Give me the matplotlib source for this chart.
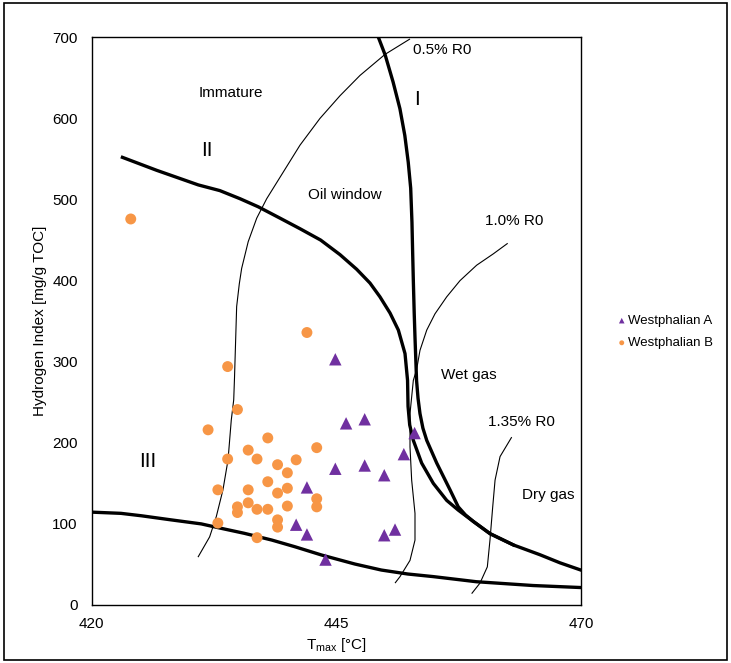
import matplotlib
matplotlib.use("Agg")
import matplotlib.pyplot as plt
from matplotlib.patches import Rectangle

plt.rcParams["font.family"] = ["Liberation Sans", "DejaVu Sans"]
plt.rcParams["mathtext.fontset"] = "custom"
plt.rcParams["mathtext.rm"] = "Liberation Sans"

# samples (Tmax °C, HI mg/g TOC)
wa_tmax = [444.9, 446.0, 447.9, 453.0, 451.9, 444.9, 447.9, 449.9, 442.0, 440.9, 442.0, 449.9, 451.0, 443.9]
wa_hi = [303, 224, 229, 212, 186, 168, 172, 160, 145, 99, 87, 86, 93, 56]

wb_tmax = [424.0, 442.0, 433.9, 434.9, 431.9, 438.0, 443.0, 436.0, 433.9, 436.9,
           440.9, 439.0, 440.0, 438.0, 432.9, 436.0, 440.0, 439.0, 443.0, 436.0,
           434.9, 440.0, 443.0, 434.9, 436.9, 438.0, 439.0, 439.0, 432.9, 436.9]
wb_hi = [476, 336, 294, 241, 216, 206, 194, 191, 180, 180,
         179, 173, 163, 152, 142, 142, 144, 138, 131, 126,
         121, 122, 121, 114, 118, 118, 105, 96, 101, 83]

# kerogen type curves
type1_t = [449.3, 450.0, 450.8, 451.5, 452.0, 452.35, 452.6, 452.73, 452.8, 452.87,
           452.96, 453.04, 453.2, 453.35, 453.55, 453.85, 454.24, 455.26, 456.62, 457.46,
           458.2, 459.0, 460.7, 463.1, 465.8, 467.85, 470.0]
type1_hi = [700, 678, 645, 612, 579, 546, 514, 472, 435, 400,
            360, 330, 277, 255, 236, 218, 203, 175, 142, 121,
            111, 103, 88, 74, 62, 52, 43]
type2_t = [423.15, 426.65, 430.9, 433.1, 435.16, 437.03, 439.25, 441.29, 443.4, 445.38,
           447.08, 448.44, 449.46, 450.49, 451.34, 452.02, 452.28, 452.33, 452.5, 452.87,
           453.72, 454.91, 456.28, 457.46, 459.0, 460.7, 463.1]
type2_hi = [552, 536, 518, 511, 501, 491, 477, 464, 450, 432,
            414, 397, 380, 360, 339, 310, 277, 245, 222, 203,
            175, 150, 129, 117, 103, 88, 74]
type3_t = [420.0, 423.0, 425.1, 428.1, 431.2, 433.25, 435.6, 438.4, 440.75, 443.5,
           446.9, 449.6, 452.3, 454.9, 459.3, 465.1, 470.0]
type3_hi = [114.5, 113, 110, 105, 100, 94.5, 88.4, 80.1, 71.9, 61.6,
            50.5, 43.1, 38.2, 35, 28.7, 24, 21.5]

# vitrinite reflectance iso-lines
r05_t = [452.53, 449.98, 447.42, 445.38, 443.33, 441.29, 439.59, 437.89, 436.87, 436.0,
         435.33, 435.09, 434.82, 434.7, 434.6, 434.52, 434.27, 433.94, 433.42, 432.74,
         432.06, 430.87]
r05_hi = [698, 679, 653, 628, 600, 567, 534, 501, 477, 448,
          415, 396, 368, 320, 280, 253, 228, 179, 142, 109,
          84, 59]
r10_t = [462.51, 461.04, 459.34, 457.64, 456.28, 455.08, 454.24, 453.55, 453.2, 452.87,
         452.53, 452.53, 452.7, 453.04, 453.04, 452.53, 451.51, 451.0]
r10_hi = [446, 433, 419, 400, 380, 359, 339, 314, 290, 277,
          236, 195, 154, 113, 80, 55, 35, 27]
r135_t = [462.92, 461.73, 461.22, 460.98, 460.7, 460.43, 459.68, 458.83]
r135_hi = [207, 183, 154, 121, 80, 47, 27, 14]

labels = [("0.5% R0", 452.8, 684, "left", 11), ("Immature", 434.2, 631, "center", 11),
          ("I", 453.2, 623, "center", 15), ("II", 431.8, 560, "center", 15),
          ("Oil window", 445.9, 506, "center", 11), ("1.0% R0", 463.2, 473, "center", 11),
          ("Wet gas", 458.5, 283, "center", 11), ("1.35% R0", 463.9, 226, "center", 11),
          ("III", 425.7, 177, "center", 15), ("Dry gas", 466.7, 136, "center", 11)]

fig = plt.figure(figsize=(7.31, 6.63), dpi=100)
ax = fig.add_axes([0.1253, 0.0875, 0.6695, 0.8562])

for xs, ys in ((r05_t, r05_hi), (r10_t, r10_hi), (r135_t, r135_hi)):
    ax.plot(xs, ys, color="black", lw=0.8, solid_capstyle="butt", solid_joinstyle="round")
for xs, ys in ((type1_t, type1_hi), (type2_t, type2_hi), (type3_t, type3_hi)):
    ax.plot(xs, ys, color="black", lw=2.4, solid_joinstyle="round")

ax.scatter(wa_tmax, wa_hi, marker="^", s=80, color="#7030A0", edgecolors="none",
           zorder=5, label="Westphalian A")
ax.scatter(wb_tmax, wb_hi, marker="o", s=62, color="#F79646", edgecolors="none",
           zorder=5, label="Westphalian B")

for txt, x, y, ha, fs in labels:
    ax.text(x, y, txt, ha=ha, va="center", fontsize=fs, color="black")

ax.set_xlim(420, 470)
ax.set_ylim(0, 700)
ax.set_xticks([420, 445, 470])
ax.set_yticks(range(0, 701, 100))
ax.tick_params(length=0, labelsize=11)
ax.tick_params(axis="x", pad=9)
ax.tick_params(axis="y", pad=10)
for sp in ax.spines.values():
    sp.set_linewidth(1.0)
ax.set_xlabel(r"T$_{\mathrm{max}}$ [°C]", fontsize=11, labelpad=3)
ax.set_ylabel("Hydrogen Index [mg/g TOC]", fontsize=11, labelpad=4)

fig.legend(loc="upper left", bbox_to_anchor=(0.837, 0.535), frameon=False,
           fontsize=9.5, markerscale=0.45, handlelength=0.5, handletextpad=0.25,
           labelspacing=0.75, borderpad=0)

fig.patches.append(Rectangle((0.005, 0.005), 0.99, 0.99, transform=fig.transFigure,
                             fill=False, edgecolor="black", lw=1.2))

fig.savefig("out.png", dpi=100)
